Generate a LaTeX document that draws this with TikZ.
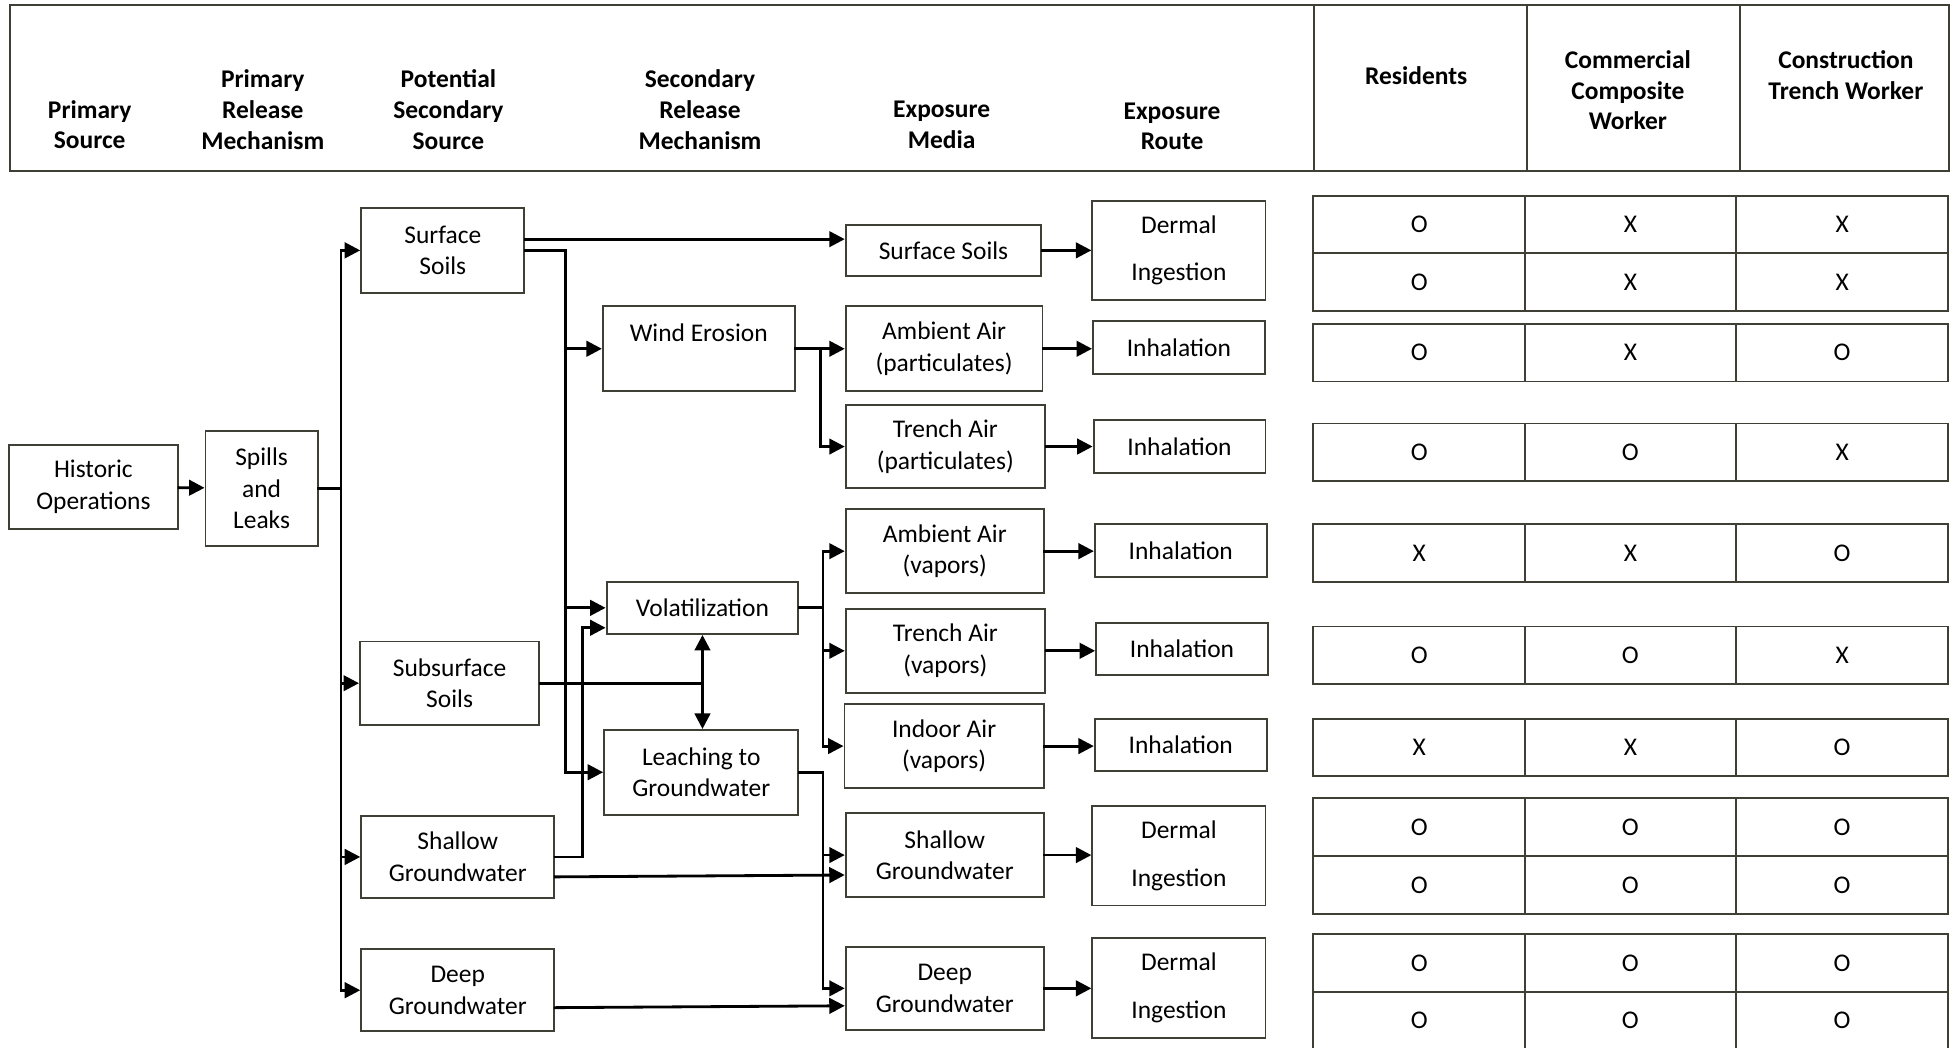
\documentclass[tikz,border=0pt]{standalone}
\usepackage{fontspec}
\setmainfont{Carlito}
\usepackage{tikz}
\usetikzlibrary{calc,arrows.meta}
\definecolor{edge}{HTML}{3F3F35}
\definecolor{ink}{HTML}{000000}
\newlength\px
\setlength\px{0.024912cm}
\newcommand\boxfont{\fontsize{14.5}{18}\selectfont}
\newcommand\hdrfont{\fontsize{14.5}{17.5}\selectfont\bfseries}
\newcommand\cellfont{\fontsize{14.5}{16}\selectfont}
\tikzset{
  box/.style={draw=edge, line width=1.1pt, fill=white, align=center, inner sep=0pt, font=\boxfont},
  sz/.style 2 args={minimum width=#1\px, minimum height=#2\px},
  cell/.style={draw=edge, line width=1.1pt, inner sep=0pt, font=\cellfont, minimum width=170\px, minimum height=46.3\px},
  hdr/.style={align=center, font=\hdrfont},
  conn/.style={draw=ink, line width=1.6pt, line cap=rect},
  arr/.style={conn, -{Triangle[length=3.1mm,width=3.1mm]}},
  dbl/.style={conn, {Triangle[length=3.1mm,width=3.1mm]}-{Triangle[length=3.1mm,width=3.1mm]}},
}

\begin{document}
\begin{tikzpicture}[x=0.024912cm, y=-0.024912cm]
  \fill[white] (0,0) rectangle (1568,841);
  \useasboundingbox (0,0) rectangle (1568,841);

  % header band
  \draw[edge, line width=1.3pt] (8,4) rectangle (1565,137);
  \foreach \x in {1055,1226,1397}
    \draw[edge, line width=1.3pt] (\x,4) -- (\x,137);
  \node[hdr] (hsrc) at (72,100) {Primary\\Source};
  \node[hdr] (hprm) at (211,88) {Primary\\Release\\Mechanism};
  \node[hdr] (hpss) at (360,88) {Potential\\Secondary\\Source};
  \node[hdr] (hsrm) at (562,88) {Secondary\\Release\\Mechanism};
  \node[hdr] (hmed) at (756,100) {Exposure\\Media};
  \node[hdr] (hrte) at (941,101.5) {Exposure\\Route};
  \node[hdr] (hres) at (1137,61) {Residents};
  \node[hdr] (hcom) at (1307,72.5) {Commercial\\Composite\\Worker};
  \node[hdr] (hcon) at (1482,60.5) {Construction\\Trench Worker};

  % sources
  \node[box, sz={136}{68}] (hist) at (75,391) {Historic\\Operations};
  \node[box, sz={90}{92}] (spill) at (210,392) {Spills\\and\\Leaks};
  \node[box, sz={131}{68}] (ssoil) at (355.5,201) {Surface\\Soils};
  \node[box, sz={144}{67}] (sub) at (361,548.5) {Subsurface\\Soils};
  \node[box, sz={155}{66}] (sgw) at (367.5,688) {Shallow\\Groundwater};
  \node[box, sz={155}{66}] (dgw) at (367.5,795) {Deep\\Groundwater};

  % secondary release
  \node[box, sz={154}{68}] (wind) at (561,280) {Wind Erosion\\\mbox{}};
  \node[box, sz={154}{42}] (vol) at (564,488) {Volatilization};
  \node[box, sz={156}{68}] (leach) at (563,620) {Leaching to\\Groundwater};

  % exposure media
  \node[box, sz={157}{41}] (msoil) at (757.5,201) {Surface Soils};
  \node[box, sz={158}{68}] (map) at (758,280) {Ambient Air\\(particulates)};
  \node[box, sz={160}{67}] (tap) at (759,358.5) {Trench Air\\(particulates)};
  \node[box, sz={159}{67}] (mav) at (758.5,442.5) {Ambient Air\\(vapors)};
  \node[box, sz={160}{67}] (mtv) at (759,522.5) {Trench Air\\(vapors)};
  \node[box, sz={160}{68}] (mia) at (758,599) {Indoor Air\\(vapors)};
  \node[box, sz={159}{67}] (msgw) at (758.5,686.5) {Shallow\\Groundwater};
  \node[box, sz={159}{67}] (mdgw) at (758.5,793.5) {Deep\\Groundwater};

  % exposure routes
  \node[box, sz={139}{80}] (r1) at (946.5,201) {Dermal\\[9pt]Ingestion};
  \foreach \n/\x/\y in {r2/946.5/279, r3/947/358.5, r4/948/442, r5/949/521, r6/948/598}
    \node[box, sz={138}{42}] (\n) at (\x,\y) {Inhalation};
  \foreach \n/\y in {r7/687, r8/793}
    \node[box, sz={139}{80}] (\n) at (946.5,\y) {Dermal\\[9pt]Ingestion};

  % receptor table
  \foreach \top/\a/\b/\c [count=\r] in {157/O/X/X, 203.3/O/X/X, 260/O/X/O, 340/O/O/X,
      421/X/X/O, 503/O/O/X, 577/X/X/O, 641/O/O/O, 687.3/O/O/O, 750/O/O/O, 796.3/O/O/O} {
    \node[cell] (t\r-1) at (1139.5,\top+23.15) {\a};
    \node[cell] (t\r-2) at (1309,\top+23.15) {\b};
    \node[cell] (t\r-3) at (1479,\top+23.15) {\c};
  }

  % spills to secondary sources
  \draw[arr] (hist) -- (spill);
  \coordinate (trunk) at ($(spill.east)+(18,0)$);
  \draw[conn] (spill.east) -- (trunk);
  \draw[conn] (trunk |- ssoil.west) -- (trunk |- dgw.west);
  \foreach \n in {ssoil,sub,sgw,dgw}
    \draw[arr] (trunk |- \n.west) -- (\n.west);

  % surface soils
  \draw[arr] ($(ssoil.east)+(0,-9)$) -- ($(msoil.west)+(0,-9)$);
  \coordinate (sbr) at ($(ssoil.east)+(32,0)$);
  \draw[arr] (ssoil.east) -- (sbr) -- (sbr |- leach.west) -- (leach.west);
  \draw[arr] (sbr |- wind.west) -- (wind.west);
  \draw[arr] (sbr |- vol.west) -- (vol.west);

  % subsurface soils
  \draw[conn] (sub.east) -- (sub.east -| vol.south);
  \draw[dbl] (vol.south) -- (vol.south |- leach.north);

  % groundwater
  \coordinate (gbr) at ($(sgw.east)+(22,0)$);
  \coordinate (vin) at ($(vol.west)+(0,16)$);
  \draw[arr] (sgw.east) -- (gbr) -- (gbr |- vin) -- (vin);
  \draw[arr] ($(sgw.east)+(0,16)$) -- ($(msgw.west)+(0,16)$);
  \draw[arr] ($(dgw.east)+(0,14)$) -- ($(mdgw.west)+(0,14)$);

  % wind erosion
  \coordinate (wbr) at ($(wind.east)+(20,0)$);
  \draw[arr] (wind.east) -- (map.west);
  \draw[arr] (wbr) -- (wbr |- tap.west) -- (tap.west);

  % volatilization
  \coordinate (vbr) at ($(vol.east)+(19,0)$);
  \draw[conn] (vol.east) -- (vbr);
  \draw[arr] (vbr |- mav.west) -- (mav.west);
  \draw[arr] (vbr |- mav.west) -- (vbr |- mia.west) -- (mia.west);
  \draw[arr] (vbr |- mtv.west) -- (mtv.west);

  % leaching
  \coordinate (lbr) at ($(leach.east)+(19,0)$);
  \draw[arr] (leach.east) -- (lbr) -- (lbr |- mdgw.west) -- (mdgw.west);
  \draw[arr] (lbr |- msgw.west) -- (msgw.west);

  % media to routes
  \foreach \m/\r in {msoil/r1, map/r2, tap/r3, mav/r4, mtv/r5, mia/r6, msgw/r7, mdgw/r8}
    \draw[arr] (\m.east) -- (\m.east -| \r.west);
\end{tikzpicture}
\end{document}
